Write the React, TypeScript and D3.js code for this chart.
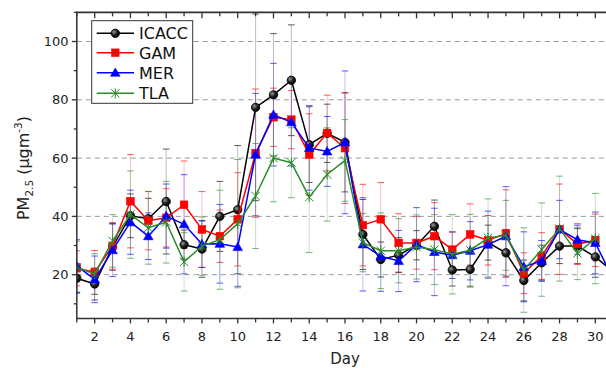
import React from 'react';
import * as d3 from 'd3';

const days = [1, 2, 3, 4, 5, 6, 7, 8, 9, 10, 11, 12, 13, 14, 15, 16, 17, 18, 19, 20, 21, 22, 23, 24, 25, 26, 27, 28, 29, 30, 31];

const ICACC = [18.8, 16.8, 29.5, 40.2, 39.2, 45.1, 30.3, 28.8, 40, 42.3, 77.4, 81.7, 86.7, 64.6, 68.5, 65.4, 33.8, 25.2, 26.7, 30.1, 36.6, 21.6, 21.8, 31, 27.5, 18, 24.1, 29.8, 29.8, 26.1, 21];
const GAM = [22.2, 20.8, 29.9, 45.2, 38.5, 39.5, 44, 35.5, 33.2, 39, 61.7, 74, 73.2, 61.2, 68.6, 63.4, 37, 39, 30.9, 30.9, 33.2, 28.6, 33.8, 31.8, 34.1, 20.5, 26.4, 35.6, 30.5, 31.8, null];
const MER = [23, 18.4, 28.4, 38, 33.2, 40.1, 37.3, 30.5, 30.6, 29.5, 61.2, 74.9, 72.3, 63.5, 62.3, 65.4, 30.4, 26.3, 24.7, 30.3, 27.8, 26.7, 28.2, 30.3, 33.2, 22.7, 24.7, 35.5, 32, 30.9, 18.5];
const TLA = [22.5, 20.2, 31.6, 40.6, 36.1, 38, 24.4, 29.8, 32, 37.5, 47, 60, 58.4, 46.6, 54.4, 59.2, 31, 28.2, 28.2, 29.5, 28.6, 27, 28.4, 32.6, 33.5, 21.6, 28.6, 35.8, 27.3, 32.4, null];

const ICACC_ERR = [5, 5.5, 8, 7.5, 7, 18, 5, 9.7, 12, 22, 32, 21, 19, 13, 10, 17, 12, 6, 6, 5, 9, 5.5, 6, 6, 8, 7, 6, 6, 6, 7, null];
const GAM_ERR = [6, 7.5, 8, 16, 10, 10, 15, 13, 9, 16, 22, 10, 10, 14, 13, 19, 14, 12.6, 10, 9, 11.5, 6, 10.5, 8.5, 15, 7, 8, 15.5, 7, 9, null];
const MER_ERR = [9, 8, 9, 11, 8, 11, 17, 8, 13.5, 13.5, 21, 17.6, 15, 14.5, 12, 24.5, 16, 12, 10.5, 12.7, 15, 8, 10, 11.5, 17, 12, 7, 10, 5, 10.6, null];
const TLA_ERR = [9, 7, 9, 15, 12.5, 14, 10, 10, 17, 22, 18, 15, 12, 19, 16, 14, 10, 13, 11, 11, 12, 13.6, 12.3, 13.4, 12, 14.5, 16, 18, 9, 15.5, null];

const xTickLabels = [2, 4, 6, 8, 10, 12, 14, 16, 18, 20, 22, 24, 26, 28, 30];
const yTickLabels = [20, 40, 60, 80, 100];
const yMinorTicks = [10, 30, 50, 70, 90, 110];

const SERIES = [
  { name: 'ICACC', values: ICACC, err: ICACC_ERR, color: '#000000', marker: 'circle' },
  { name: 'GAM', values: GAM, err: GAM_ERR, color: '#ff0000', marker: 'square' },
  { name: 'MER', values: MER, err: MER_ERR, color: '#0000ff', marker: 'triangle' },
  { name: 'TLA', values: TLA, err: TLA_ERR, color: '#2a8c2a', marker: 'star' },
];

const W = 606, H = 368;
const X0 = 76.8, X1 = 613.2, Y0 = 12.35, Y1 = 318.4;
const FONT = 'DejaVu Sans, Verdana, sans-serif';

function Marker({ type, cx, cy, color }: { type: string; cx: number; cy: number; color: string }) {
  if (type === 'circle') {
    return <circle cx={cx} cy={cy} r={4.2} fill="url(#ballGrad)" stroke="#000" strokeWidth={0.8} />;
  }
  if (type === 'square') {
    return <rect x={cx - 3.8} y={cy - 3.8} width={7.6} height={7.6} fill={color} stroke={color} strokeWidth={0.6} />;
  }
  if (type === 'triangle') {
    const p = d3.symbol().type(d3.symbolTriangle).size(40)() as string;
    return <path d={p} transform={`translate(${cx},${cy + 0.8})`} fill={color} stroke={color} strokeWidth={0.6} />;
  }
  const r = 4.2;
  return (
    <g stroke={color} strokeWidth={1} fill="none">
      <line x1={cx - r} y1={cy - r} x2={cx + r} y2={cy + r} />
      <line x1={cx - r} y1={cy + r} x2={cx + r} y2={cy - r} />
      <line x1={cx} y1={cy - r * 1.2} x2={cx} y2={cy + r * 1.2} />
    </g>
  );
}

export default function App() {
  const x = d3.scaleLinear().domain([1, 31]).range([X0, X1]);
  const y = d3.scaleLinear().domain([5, 110]).range([Y1, Y0]);

  const line = d3
    .line<{ d: number; v: number | null }>()
    .defined((p) => p.v != null)
    .x((p) => x(p.d))
    .y((p) => y(p.v as number));

  const xAll = days.filter((d) => d <= 30.6);
  const legendRows = [33.3, 52.7, 72.7, 93.3];

  return (
    <svg width={W} height={H} style={{ position: 'absolute', left: 0, top: 0, background: '#fff' }} fontFamily={FONT}>
      <defs>
        <clipPath id="plotClip">
          <rect x={X0} y={Y0} width={X1 - X0} height={Y1 - Y0} />
        </clipPath>
        <radialGradient id="ballGrad" cx="0.35" cy="0.35" r="0.7">
          <stop offset="0" stopColor="#9a9a9a" />
          <stop offset="0.5" stopColor="#222" />
          <stop offset="1" stopColor="#000" />
        </radialGradient>
      </defs>

      {/* gridlines */}
      {yTickLabels.map((t) => (
        <line key={'g' + t} x1={X0} x2={W} y1={y(t)} y2={y(t)} stroke="#9a9a9a" strokeWidth={1} strokeDasharray="5,4" />
      ))}

      {/* data */}
      <g clipPath="url(#plotClip)">
        {SERIES.map((s) => (
          <g key={'e' + s.name}>
            {s.values.map((v, i) => {
              const e = s.err[i];
              if (v == null || e == null) return null;
              const cx = x(days[i]);
              return (
                <g key={i} stroke={s.color} strokeWidth={1}>
                  <line x1={cx} x2={cx} y1={y(v + e)} y2={y(v - e)} strokeOpacity={0.25} />
                  <line x1={cx - 3.3} x2={cx + 3.3} y1={y(v + e)} y2={y(v + e)} strokeOpacity={0.65} />
                  <line x1={cx - 3.3} x2={cx + 3.3} y1={y(v - e)} y2={y(v - e)} strokeOpacity={0.65} />
                </g>
              );
            })}
          </g>
        ))}
        {SERIES.map((s) => (
          <g key={'l' + s.name}>
            <path d={line(s.values.map((v, i) => ({ d: days[i], v }))) as string} fill="none" stroke={s.color} strokeWidth={1.5} />
            {s.values.map((v, i) =>
              v == null ? null : <Marker key={i} type={s.marker} cx={x(days[i])} cy={y(v)} color={s.color} />
            )}
          </g>
        ))}
      </g>

      {/* axes */}
      <line x1={X0} x2={X0} y1={Y0} y2={Y1} stroke="#333" strokeWidth={1.5} />
      <line x1={X0 - 0.75} x2={W} y1={Y1} y2={Y1} stroke="#333" strokeWidth={1.5} />
      <line x1={X0 - 0.75} x2={W} y1={Y0} y2={Y0} stroke="#333" strokeWidth={1.8} />

      {/* x ticks bottom (outward) and top (inward) */}
      {xAll.map((d) => {
        const major = d % 2 === 0;
        return (
          <g key={'xt' + d} stroke="#333" strokeWidth={1.3}>
            <line x1={x(d)} x2={x(d)} y1={Y1} y2={Y1 + (major ? 5 : 4)} />
            <line x1={x(d)} x2={x(d)} y1={Y0} y2={Y0 + (major ? 6 : 4)} />
          </g>
        );
      })}
      {xTickLabels.map((d) => (
        <text key={'xl' + d} x={x(d)} y={341} textAnchor="middle" fontSize={13} fill="#222">
          {d}
        </text>
      ))}

      {/* y ticks */}
      {yTickLabels.map((t) => (
        <g key={'yt' + t}>
          <line x1={X0 - 5} x2={X0} y1={y(t)} y2={y(t)} stroke="#333" strokeWidth={1.3} />
          <text x={68.5} y={y(t) + 4.7} textAnchor="end" fontSize={13} fill="#222">
            {t}
          </text>
        </g>
      ))}
      {yMinorTicks.map((t) => (
        <line key={'ym' + t} x1={X0 - 3} x2={X0} y1={y(t)} y2={y(t)} stroke="#333" strokeWidth={1.3} />
      ))}

      {/* axis titles */}
      <text x={345} y={364} textAnchor="middle" fontSize={15} fill="#222">
        Day
      </text>
      <text transform="translate(29,168) rotate(-90)" textAnchor="middle" fontSize={16} fill="#222">
        PM
        <tspan fontSize={10.5} dy={4}>2.5</tspan>
        <tspan dy={-4}> (μgm</tspan>
        <tspan fontSize={10.5} dy={-7}>-3</tspan>
        <tspan dy={7}>)</tspan>
      </text>

      {/* legend */}
      <rect x={91.7} y={20.7} width={101} height={82.6} fill="#fff" stroke="#333" strokeWidth={1} />
      {SERIES.map((s, i) => (
        <g key={'lg' + s.name}>
          <line x1={96.7} x2={134} y1={legendRows[i]} y2={legendRows[i]} stroke={s.color} strokeWidth={1.5} />
          <Marker type={s.marker} cx={115.3} cy={legendRows[i]} color={s.color} />
          <text x={139} y={legendRows[i] + 6} fontSize={16} fill="#111">
            {s.name}
          </text>
        </g>
      ))}
    </svg>
  );
}
